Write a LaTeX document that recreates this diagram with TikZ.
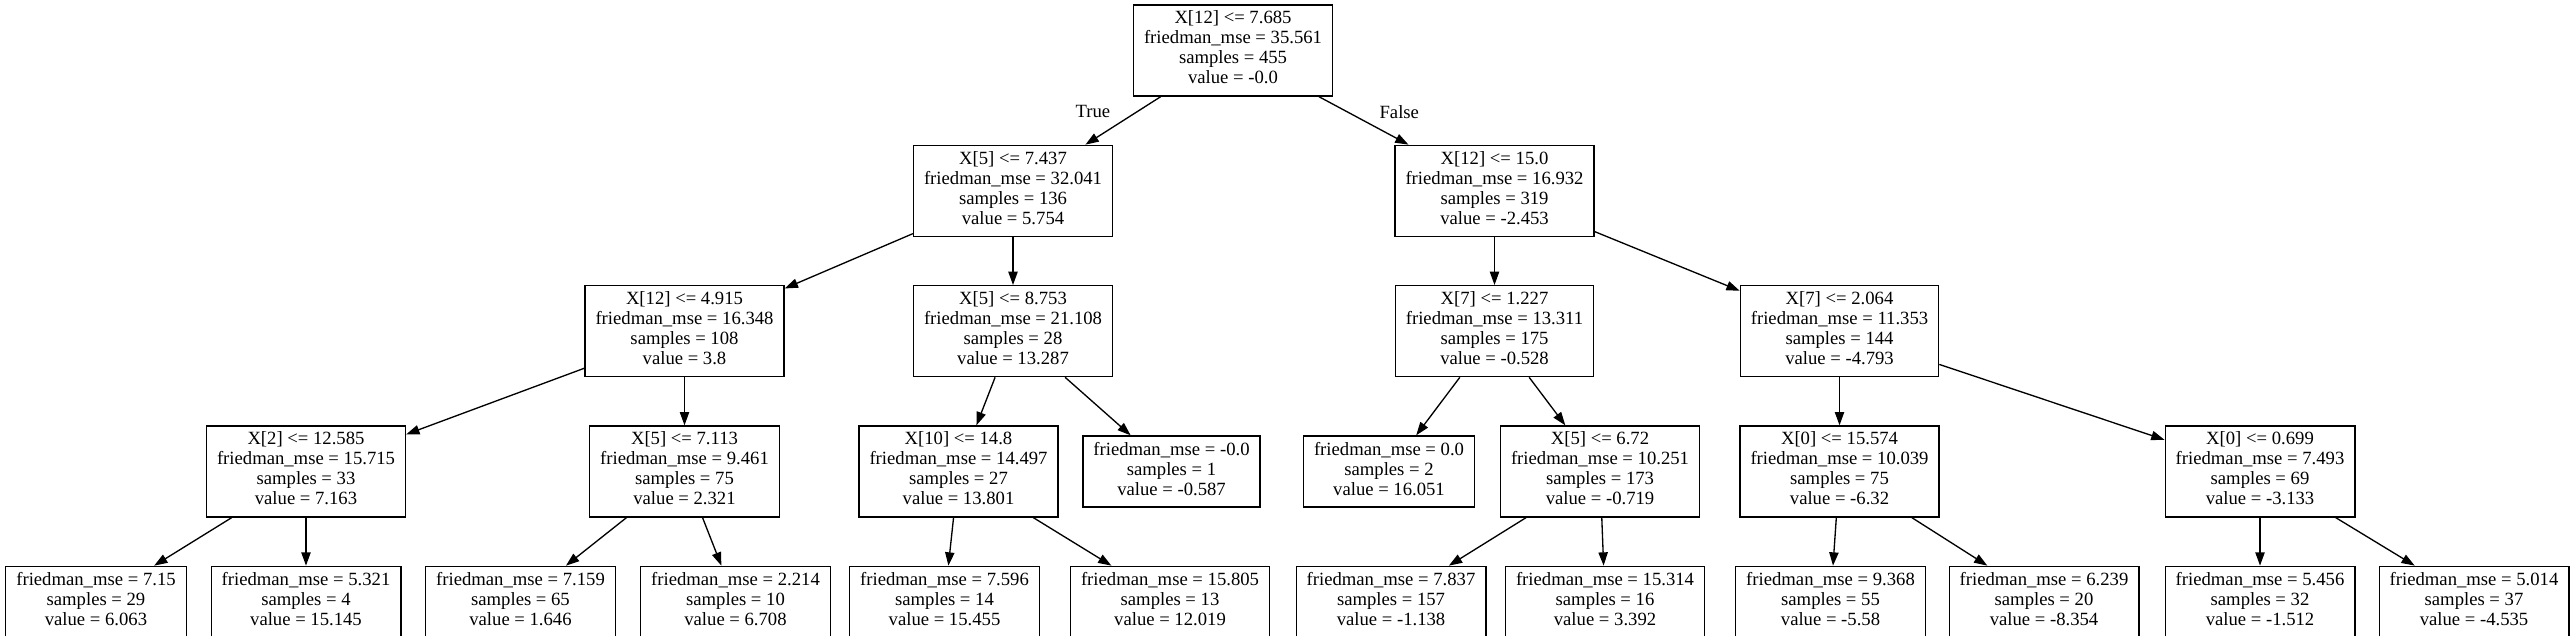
\documentclass[tikz,border=0pt]{standalone}
\usepackage{fontspec}
\setmainfont{Liberation Serif}
\usetikzlibrary{arrows.meta,positioning}
\tikzstyle{split}=[draw,rectangle,align=center,minimum height=91pt,inner xsep=10.5pt,inner ysep=0pt,execute at begin node=\strut,execute at end node=\strut]
\tikzstyle{leaf}=[split,minimum height=71pt]
\begin{document}
\begin{tikzpicture}[->,>={Triangle[length=13.3pt,width=9.3pt]},line width=1.33pt,node distance=48pt,font=\fontsize{18.67}{20}\selectfont]
    \useasboundingbox (0pt,0pt) rectangle (2575pt,-636pt);

    \node[split] (root) at (1233pt,-50.5pt) {X[12] <= 7.685\\friedman\_mse = 35.561\\samples = 455\\value = -0.0};
    \node[split] (n1) [below=of root, xshift=-220pt]   {X[5] <= 7.437\\friedman\_mse = 32.041\\samples = 136\\value = 5.754};
    \node[split] (n2) [below=of root, xshift=261.5pt]  {X[12] <= 15.0\\friedman\_mse = 16.932\\samples = 319\\value = -2.453};

    \node[split] (n3) [below=of n1, xshift=-328.5pt]   {X[12] <= 4.915\\friedman\_mse = 16.348\\samples = 108\\value = 3.8};
    \node[split] (n4) [below=of n1]                    {X[5] <= 8.753\\friedman\_mse = 21.108\\samples = 28\\value = 13.287};
    \node[split] (n5) [below=of n2]                    {X[7] <= 1.227\\friedman\_mse = 13.311\\samples = 175\\value = -0.528};
    \node[split] (n6) [below=of n2, xshift=345pt]      {X[7] <= 2.064\\friedman\_mse = 11.353\\samples = 144\\value = -4.793};

    \node[split] (n7) [below=of n3, xshift=-378.5pt]   {X[2] <= 12.585\\friedman\_mse = 15.715\\samples = 33\\value = 7.163};
    \node[split] (n8) [below=of n3]                    {X[5] <= 7.113\\friedman\_mse = 9.461\\samples = 75\\value = 2.321};
    \node[split] (n9) [below=of n4, xshift=-54.5pt]    {X[10] <= 14.8\\friedman\_mse = 14.497\\samples = 27\\value = 13.801};
    \node[leaf] (n10) [below=58pt of n4, xshift=158.5pt]  {friedman\_mse = -0.0\\samples = 1\\value = -0.587};
    \node[leaf] (n11) [below=58pt of n5, xshift=-105.5pt] {friedman\_mse = 0.0\\samples = 2\\value = 16.051};
    \node[split] (n12) [below=of n5, xshift=105.5pt]   {X[5] <= 6.72\\friedman\_mse = 10.251\\samples = 173\\value = -0.719};
    \node[split] (n13) [below=of n6]                   {X[0] <= 15.574\\friedman\_mse = 10.039\\samples = 75\\value = -6.32};
    \node[split] (n14) [below=of n6, xshift=420.5pt]   {X[0] <= 0.699\\friedman\_mse = 7.493\\samples = 69\\value = -3.133};

    % leaves
    \node[leaf] (n15) [below=of n7, xshift=-210pt]     {friedman\_mse = 7.15\\samples = 29\\value = 6.063};
    \node[leaf] (n16) [below=of n7]                    {friedman\_mse = 5.321\\samples = 4\\value = 15.145};
    \node[leaf] (n17) [below=of n8, xshift=-164pt]     {friedman\_mse = 7.159\\samples = 65\\value = 1.646};
    \node[leaf] (n18) [below=of n8, xshift=51pt]       {friedman\_mse = 2.214\\samples = 10\\value = 6.708};
    \node[leaf] (n19) [below=of n9, xshift=-14pt]      {friedman\_mse = 7.596\\samples = 14\\value = 15.455};
    \node[leaf] (n20) [below=of n9, xshift=211.5pt]    {friedman\_mse = 15.805\\samples = 13\\value = 12.019};
    \node[leaf] (n21) [below=of n12, xshift=-209pt]    {friedman\_mse = 7.837\\samples = 157\\value = -1.138};
    \node[leaf] (n22) [below=of n12, xshift=5pt]       {friedman\_mse = 15.314\\samples = 16\\value = 3.392};
    \node[leaf] (n23) [below=of n13, xshift=-9pt]      {friedman\_mse = 9.368\\samples = 55\\value = -5.58};
    \node[leaf] (n24) [below=of n13, xshift=204.5pt]   {friedman\_mse = 6.239\\samples = 20\\value = -8.354};
    \node[leaf] (n25) [below=of n14]                   {friedman\_mse = 5.456\\samples = 32\\value = -1.512};
    \node[leaf] (n26) [below=of n14, xshift=214pt]     {friedman\_mse = 5.014\\samples = 37\\value = -4.535};

    \path (root) edge node[pos=0.3,left=24pt] {True} (n1);
    \path (root) edge node[pos=0.32,right=28pt] {False} (n2);
    \path (n1) edge (n3);
    \path (n1) edge (n4);
    \path (n2) edge (n5);
    \path (n2) edge (n6);
    \path (n3) edge (n7);
    \path (n3) edge (n8);
    \path (n4) edge (n9);
    \path (n4) edge (n10);
    \path (n5) edge (n11);
    \path (n5) edge (n12);
    \path (n6) edge (n13);
    \path (n6) edge (n14);
    \path (n7) edge (n15);
    \path (n7) edge (n16);
    \path (n8) edge (n17);
    \path (n8) edge (n18);
    \path (n9) edge (n19);
    \path (n9) edge (n20);
    \path (n12) edge (n21);
    \path (n12) edge (n22);
    \path (n13) edge (n23);
    \path (n13) edge (n24);
    \path (n14) edge (n25);
    \path (n14) edge (n26);

\end{tikzpicture}
\end{document}
